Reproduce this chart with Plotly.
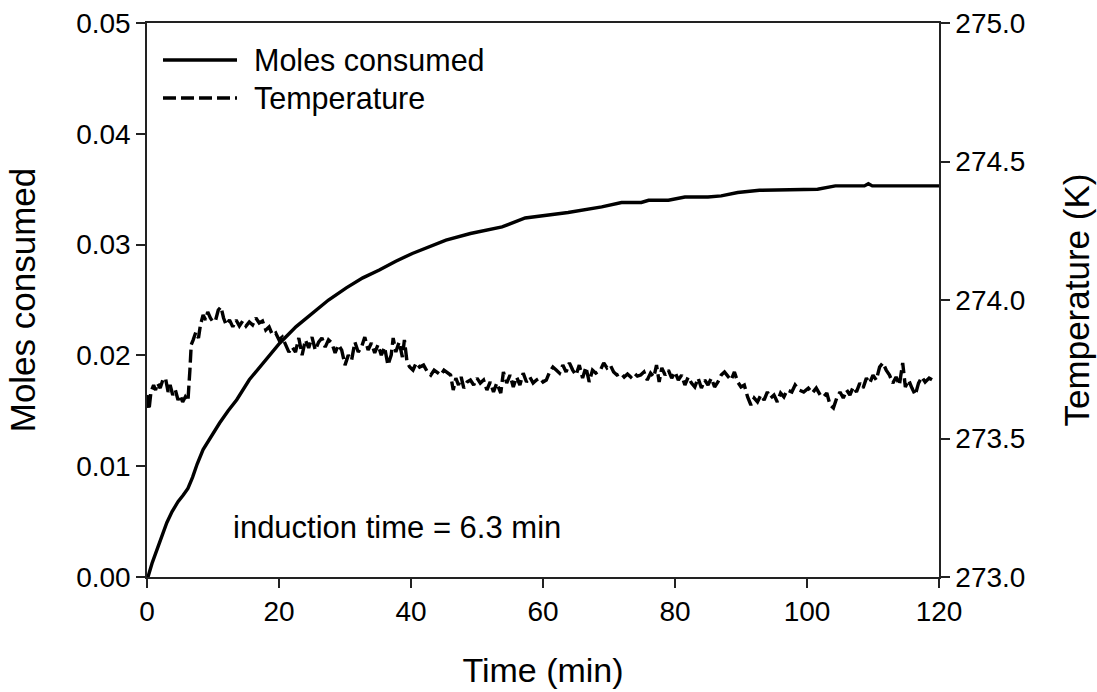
import plotly.graph_objects as go

# ---------------- data ----------------
moles_time = [0.0, 0.15, 0.8, 1.5, 2.2, 3.0, 3.8, 4.7, 5.5, 6.2, 6.9, 7.6, 8.5, 9.7, 11.0,
              12.3, 13.6, 15.5, 17.8, 20.1, 22.6, 25.1, 27.5, 30.2, 32.7, 35.2, 37.7, 40.2,
              42.7, 45.3, 49.0, 53.8, 57.3, 61.3, 63.8, 68.9, 71.9, 74.9, 76.0, 79.0, 81.5,
              85.0, 87.0, 89.5, 92.8, 101.6, 104.3, 108.7, 109.3, 109.9, 120.0]
moles_consumed = [0.0, 0.0, 0.0013, 0.0024, 0.0037, 0.0049, 0.0059, 0.0068, 0.0074, 0.0080,
                  0.0090, 0.0102, 0.0115, 0.0127, 0.0139, 0.0150, 0.0160, 0.0178, 0.0195,
                  0.0211, 0.0226, 0.0238, 0.0250, 0.0261, 0.0270, 0.0277, 0.0285, 0.0292,
                  0.0298, 0.0304, 0.0310, 0.0316, 0.0324, 0.0327, 0.0329, 0.0334, 0.0338,
                  0.0338, 0.0340, 0.0340, 0.0343, 0.0343, 0.0344, 0.0347, 0.0349, 0.0350,
                  0.0353, 0.0353, 0.0355, 0.0353, 0.0353]

temp_time = [0.0, 0.3, 0.6, 1.0, 1.3, 1.6, 2.0, 2.4, 2.8, 3.2, 3.5, 3.9, 4.3, 4.7, 5.0, 5.4,
             5.8, 6.2, 6.5, 6.7, 7.0, 7.4, 7.8, 8.1, 8.5, 8.9, 9.2, 9.6, 10.0, 10.4, 10.8,
             11.2, 11.6, 12.0, 12.5, 13.0, 13.5, 14.0, 14.5, 15.0, 15.5, 16.0, 16.5, 17.0,
             17.5, 18.0, 18.5, 19.0, 19.5, 20.0, 20.5, 21.0, 21.5, 22.0, 22.5, 23.0, 23.5,
             24.0, 24.5, 25.0, 25.5, 26.0, 26.5, 27.0, 27.5, 28.0, 28.5, 29.0, 29.5, 30.0,
             30.5, 31.0, 31.5, 32.0, 32.5, 33.0, 33.5, 34.0, 34.5, 35.0, 35.5, 36.0, 36.5,
             37.0, 37.3, 37.7, 38.2, 38.7, 39.0, 39.4, 39.8, 40.3, 40.8, 41.3, 41.9, 42.5,
             43.0, 43.5, 44.0, 44.5, 45.0, 45.5, 46.0, 46.4, 46.8, 47.2, 47.6, 48.0, 48.5,
             49.0, 49.5, 50.0, 50.5, 51.0, 51.5, 52.0, 52.5, 53.0, 53.6, 54.0, 54.5, 55.0,
             55.5, 56.0, 56.5, 57.0, 57.5, 58.0, 58.5, 59.0, 59.5, 60.0, 60.5, 61.0, 61.5,
             62.0, 62.5, 63.0, 63.5, 64.0, 64.5, 65.0, 65.5, 66.0, 66.5, 67.0, 67.5, 68.0,
             68.7, 69.2, 69.7, 70.2, 70.7, 71.2, 71.8, 72.3, 72.8, 73.3, 73.8, 74.3, 74.8,
             75.3, 75.8, 76.3, 76.8, 77.2, 77.6, 78.0, 78.5, 79.0, 79.5, 80.0, 80.5, 81.0,
             81.5, 82.0, 82.5, 83.0, 83.5, 84.0, 84.5, 85.0, 85.5, 86.0, 86.5, 87.0, 87.5,
             88.0, 88.5, 89.0, 89.5, 90.0, 90.5, 91.0, 91.5, 92.0, 92.5, 93.0, 93.5, 94.0,
             94.5, 95.0, 95.5, 96.0, 96.5, 97.0, 97.7, 98.2, 98.8, 99.5, 100.2, 100.8,
             101.4, 102.0, 102.5, 103.0, 103.5, 104.0, 104.5, 105.0, 105.5, 106.0, 106.5,
             107.0, 107.5, 108.0, 108.5, 109.0, 109.5, 110.0, 110.5, 111.0, 111.5, 112.0,
             112.5, 113.0, 113.5, 114.0, 114.5, 114.9, 115.4, 115.9, 116.4, 116.9, 117.4,
             117.9, 118.5, 119.0, 119.5]
temperature = [273.657, 273.603, 273.668, 273.693, 273.675, 273.700, 273.682, 273.711,
               273.718, 273.668, 273.693, 273.657, 273.675, 273.639, 273.657, 273.632,
               273.650, 273.635, 273.747, 273.838, 273.856, 273.884, 273.863, 273.910,
               273.946, 273.928, 273.957, 273.935, 273.921, 273.928, 273.964, 273.975,
               273.935, 273.910, 273.928, 273.903, 273.928, 273.906, 273.924, 273.906,
               273.921, 273.910, 273.935, 273.917, 273.924, 273.892, 273.903, 273.874,
               273.881, 273.856, 273.866, 273.838, 273.812, 273.830, 273.812, 273.863,
               273.801, 273.856, 273.827, 273.866, 273.819, 273.848, 273.863, 273.830,
               273.856, 273.845, 273.809, 273.838, 273.819, 273.765, 273.801, 273.783,
               273.848, 273.812, 273.830, 273.866, 273.819, 273.845, 273.809, 273.838,
               273.801, 273.830, 273.765, 273.801, 273.863, 273.812, 273.848, 273.794,
               273.856, 273.776, 273.758, 273.747, 273.773, 273.758, 273.765, 273.740,
               273.729, 273.747, 273.736, 273.729, 273.747, 273.736, 273.729, 273.675,
               273.718, 273.693, 273.722, 273.682, 273.704, 273.711, 273.693, 273.718,
               273.700, 273.711, 273.675, 273.704, 273.668, 273.700, 273.664, 273.740,
               273.700, 273.729, 273.686, 273.722, 273.693, 273.736, 273.704, 273.722,
               273.700, 273.711, 273.718, 273.704, 273.711, 273.740, 273.758, 273.747,
               273.736, 273.765, 273.740, 273.773, 273.747, 273.729, 273.765, 273.718,
               273.758, 273.704, 273.747, 273.736, 273.747, 273.773, 273.755, 273.765,
               273.740, 273.729, 273.736, 273.722, 273.733, 273.722, 273.736, 273.725,
               273.729, 273.740, 273.711, 273.736, 273.722, 273.765, 273.704, 273.755,
               273.729, 273.747, 273.718, 273.740, 273.711, 273.729, 273.693, 273.722,
               273.700, 273.686, 273.718, 273.682, 273.711, 273.693, 273.718, 273.686,
               273.704, 273.729, 273.740, 273.725, 273.711, 273.740, 273.704, 273.686,
               273.693, 273.650, 273.621, 273.646, 273.632, 273.657, 273.639, 273.668,
               273.646, 273.657, 273.632, 273.664, 273.650, 273.675, 273.668, 273.693,
               273.675, 273.668, 273.682, 273.664, 273.682, 273.657, 273.650, 273.664,
               273.621, 273.610, 273.646, 273.668, 273.646, 273.675, 273.657, 273.686,
               273.668, 273.700, 273.682, 273.718, 273.700, 273.729, 273.711, 273.758,
               273.773, 273.747, 273.729, 273.700, 273.722, 273.693, 273.773, 273.686,
               273.711, 273.682, 273.657, 273.700, 273.722, 273.704, 273.718, 273.711,
               273.718]

x_ticks = [0, 20, 40, 60, 80, 100, 120]
y_ticks = [0.00, 0.01, 0.02, 0.03, 0.04, 0.05]
y2_ticks = [273.0, 273.5, 274.0, 274.5, 275.0]

legend_labels = ["Moles consumed", "Temperature"]
note_text = "induction time = 6.3 min"

# ---------------- figure ----------------
FONT = "Liberation Sans, Arial, sans-serif"
W, H = 1097, 692
L, R, T, B = 147, 158, 23, 115
pw, ph = W - L - R, H - T - B


def px_x(p):
    return (p - L) / pw


def px_y(p):
    return (H - B - p) / ph


DASH = "13px,5px"
LW = 3.4

fig = go.Figure()
fig.add_trace(go.Scatter(x=moles_time, y=moles_consumed, mode="lines",
                         line=dict(color="black", width=LW), name=legend_labels[0],
                         showlegend=False))
fig.add_trace(go.Scatter(x=temp_time, y=temperature, mode="lines", yaxis="y2",
                         line=dict(color="black", width=LW, dash=DASH), name=legend_labels[1],
                         showlegend=False))

axis_common = dict(showline=True, linecolor="#222", linewidth=1.5, ticks="outside",
                   ticklen=9, tickwidth=1.5, tickcolor="#222", showgrid=False, zeroline=False,
                   tickfont=dict(family=FONT, size=28, color="black"))

fig.update_layout(
    width=W, height=H,
    margin=dict(l=L, r=R, t=T, b=B, autoexpand=False),
    paper_bgcolor="white", plot_bgcolor="white",
    font=dict(family=FONT, color="black"),
    xaxis=dict(range=[0, 120], tickvals=x_ticks, mirror=True,
               title=dict(text="Time (min)", font=dict(family=FONT, size=34), standoff=32),
               **axis_common),
    yaxis=dict(range=[0, 0.05], tickvals=y_ticks, tickformat=".2f",
               title=dict(text="Moles consumed", font=dict(family=FONT, size=35), standoff=30),
               **axis_common),
    yaxis2=dict(range=[273.0, 275.0], tickvals=y2_ticks, tickformat=".1f", overlaying="y",
                side="right",
                title=dict(text="Temperature (K)", font=dict(family=FONT, size=35), standoff=40),
                **axis_common),
    showlegend=False,
)

# manual legend (long line samples as in the reference)
leg_y = [60, 98]
for i, (lbl, yy) in enumerate(zip(legend_labels, leg_y)):
    fig.add_shape(type="line", xref="paper", yref="paper",
                  x0=px_x(163), x1=px_x(237), y0=px_y(yy), y1=px_y(yy),
                  line=dict(color="black", width=LW, dash="solid" if i == 0 else DASH))
    fig.add_annotation(xref="paper", yref="paper", x=px_x(252), y=px_y(yy), text=lbl,
                       showarrow=False, xanchor="left", yanchor="middle",
                       font=dict(family=FONT, size=30.5, color="black"))

fig.add_annotation(xref="paper", yref="paper", x=px_x(231), y=px_y(527), text=note_text,
                   showarrow=False, xanchor="left", yanchor="middle",
                   font=dict(family=FONT, size=31, color="black"))

fig.write_html("out.html")
